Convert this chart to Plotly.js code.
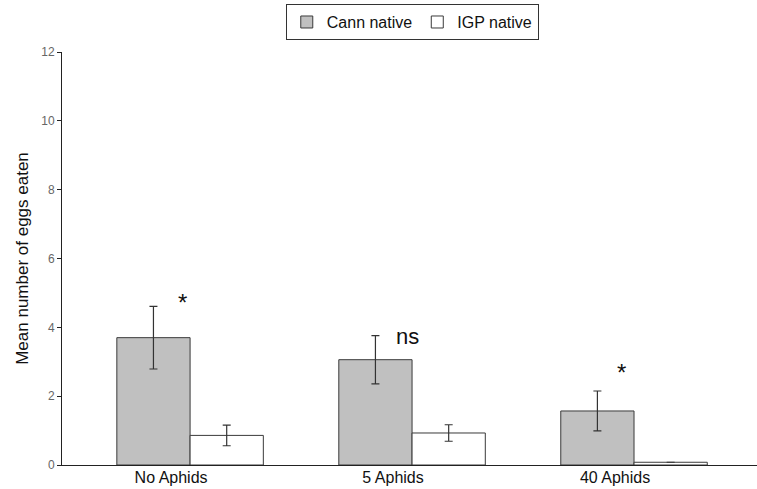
<!DOCTYPE html>
<html><head><meta charset="utf-8">
<script src="https://cdn.plot.ly/plotly-3.0.1.min.js"></script>
<style>html,body{margin:0;padding:0;background:#fff}#chart{width:757px;height:489px}</style>
</head><body><div id="chart"></div>
<script>
const categories = ["No Aphids", "5 Aphids", "40 Aphids"];
const cannValues = [3.70, 3.06, 1.57];
const cannErrors = [0.91, 0.70, 0.58];
const igpValues = [0.86, 0.93, 0.08];
const igpErrors = [0.30, 0.24, 0];
const sigLabels = ["*", "ns", "*"];
const yTicks = [0, 2, 4, 6, 8, 10, 12];

const font = "Liberation Sans, Arial, sans-serif";
const traces = [
  {type:"bar", name:"Cann native", x:categories, y:cannValues,
   marker:{color:"#c0c0c0", line:{color:"#3a3a3a", width:1}},
   error_y:{type:"data", array:cannErrors, visible:true, color:"#333", thickness:1.2, width:4}},
  {type:"bar", name:"IGP native", x:categories, y:igpValues,
   marker:{color:"#ffffff", line:{color:"#3a3a3a", width:1}},
   error_y:{type:"data", array:igpErrors, visible:true, color:"#333", thickness:1.2, width:4}}
];
const xShifts = [-8, -5, -13];
const yShifts = [4, -1, 19];
const annotations = categories.map((c,i)=>({
  x:c, y:cannValues[i]+cannErrors[i], xref:"x", yref:"y", text:sigLabels[i],
  showarrow:false, yanchor:"middle", xshift:xShifts[i], yshift:yShifts[i],
  font:{family:font, size: sigLabels[i]==="ns"?22:24, color:"#111"}
}));
const layout = {
  width:757, height:489,
  margin:{l:62, r:0, t:52, b:24},
  paper_bgcolor:"#fff", plot_bgcolor:"#fff",
  font:{family:font, color:"#222"},
  barmode:"group", bargap:0.34, bargroupgap:0,
  showlegend:true,
  legend:{orientation:"h", x:0.504, xanchor:"center", y:1.116, yanchor:"top", yref:"paper",
    bordercolor:"#333", borderwidth:1, font:{size:16, family:font, color:"#111"},
    itemwidth:30, tracegroupgap:0},
  xaxis:{type:"category", range:[-0.577, 2.554], showline:true, linecolor:"#222", linewidth:1,
    ticks:"", showgrid:false, zeroline:false, ticklabelshift:-19, ticklabelstandoff:-2,
    tickfont:{size:16, family:font, color:"#111"}},
  yaxis:{range:[0,12], tickvals:yTicks, showline:true, linecolor:"#222", linewidth:1,
    ticks:"outside", ticklen:4, tickcolor:"#222", showgrid:false, zeroline:false,
    tickfont:{size:12, family:font, color:"#666"},
    title:{text:"Mean number of eggs eaten", font:{size:17, family:font, color:"#111"}, standoff:8}},
  annotations:annotations
};
Plotly.newPlot("chart", traces, layout, {displayModeBar:false, staticPlot:true});
</script></body></html>
